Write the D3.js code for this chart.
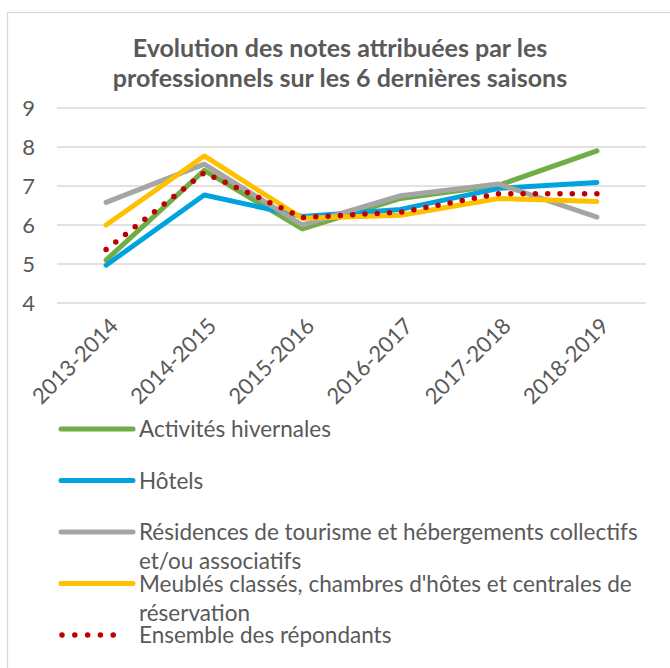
<!DOCTYPE html>
<html>
<head>
<meta charset="utf-8">
<script src="https://cdn.jsdelivr.net/npm/d3@7"></script>
<style>
  body { margin: 0; background: #fff; }
  svg { display: block; }
  text { font-family: Lato, "Open Sans", sans-serif; fill: #595959; }
</style>
</head>
<body>
<svg id="chart" width="670" height="668"></svg>
<script>
  // data
  var seasons = ['2013-2014', '2014-2015', '2015-2016', '2016-2017', '2017-2018', '2018-2019']
  var activites = [5.1, 7.4, 5.9, 6.68, 7.02, 7.9]
  var hotels = [4.97, 6.77, 6.22, 6.4, 6.94, 7.09]
  var residences = [6.58, 7.56, 6.0, 6.75, 7.05, 6.2]
  var meubles = [6.0, 7.77, 6.17, 6.25, 6.68, 6.6]
  var ensemble = [5.37, 7.34, 6.19, 6.33, 6.8, 6.8]
  var yTicks = [4, 5, 6, 7, 8, 9]

  var seriesNames = [
    ['Activités hivernales'],
    ['Hôtels'],
    ['Résidences de tourisme et hébergements collectifs', 'et/ou associatifs'],
    ['Meublés classés, chambres d\'hôtes et centrales de', 'réservation'],
    ['Ensemble des répondants']
  ]
  var seriesColors = ['#70AD47', '#00A3DD', '#A5A5A5', '#FFC000', '#C00000']
  var seriesValues = [activites, hotels, residences, meubles, ensemble]

  var svg = d3.select('#chart')

  // chart frame (runs off the right/bottom of the picture)
  svg.append('rect')
    .attr('x', 7.5).attr('y', 12.5)
    .attr('width', 700).attr('height', 700)
    .attr('fill', 'none')
    .attr('stroke', '#D9D9D9')
    .attr('stroke-width', 1.3)

  // title
  var title = svg.append('text')
    .attr('text-anchor', 'middle')
    .style('font-weight', 'bold')
    .style('font-size', '25px')
  title.append('tspan').attr('x', 340).attr('y', 57).text('Evolution des notes attribuées par les')
  title.append('tspan').attr('x', 340).attr('y', 87).text('professionnels sur les 6 dernières saisons')

  var x = d3.scalePoint().domain(seasons).range([57, 646]).padding(0.5)
  var y = d3.scaleLinear().domain([4, 9]).range([303, 108])

  // gridlines
  svg.append('g')
    .selectAll('line')
    .data(yTicks)
    .join('line')
    .attr('x1', 57).attr('x2', 646)
    .attr('y1', function (d) { return y(d) })
    .attr('y2', function (d) { return y(d) })
    .attr('stroke', '#D9D9D9')
    .attr('stroke-width', 1.6)

  // y axis labels
  svg.append('g')
    .selectAll('text')
    .data(yTicks)
    .join('text')
    .attr('x', 35)
    .attr('y', function (d) { return y(d) })
    .attr('dy', '0.36em')
    .attr('text-anchor', 'end')
    .style('font-size', '22px')
    .text(function (d) { return d })

  // x axis labels, rotated
  svg.append('g')
    .selectAll('text')
    .data(seasons)
    .join('text')
    .attr('transform', function (d) { return 'translate(' + (x(d) + 8) + ',322) rotate(-45)' })
    .attr('text-anchor', 'end')
    .attr('dy', '0.35em')
    .style('font-size', '22px')
    .text(function (d) { return d })

  var line = d3.line()
    .x(function (d, i) { return x(seasons[i]) })
    .y(function (d) { return y(d) })

  seriesValues.forEach(function (vals, i) {
    var p = svg.append('path')
      .datum(vals)
      .attr('d', line)
      .attr('fill', 'none')
      .attr('stroke', seriesColors[i])
      .attr('stroke-width', 5)
      .attr('stroke-linejoin', 'round')
      .attr('stroke-linecap', 'round')
    if (i === 4) {
      p.attr('stroke-width', 5.5).attr('stroke-dasharray', '0 12.3')
    }
  })

  // legend
  var legend = svg.append('g')
  seriesNames.forEach(function (lines, i) {
    var cy = 429 + i * 51.5
    var sample = legend.append('line')
      .attr('x1', 61).attr('x2', 133)
      .attr('y1', cy).attr('y2', cy)
      .attr('stroke', seriesColors[i])
      .attr('stroke-width', 5)
      .attr('stroke-linecap', 'round')
    if (i === 4) {
      sample.attr('x1', 62).attr('x2', 126).attr('stroke-width', 5.5).attr('stroke-dasharray', '0 12.8')
    }
    var t = legend.append('text')
      .style('font-size', '22.5px')
    lines.forEach(function (s, k) {
      t.append('tspan').attr('x', 139).attr('y', cy + 8 + k * 29).text(s)
    })
  })
</script>
</body>
</html>
